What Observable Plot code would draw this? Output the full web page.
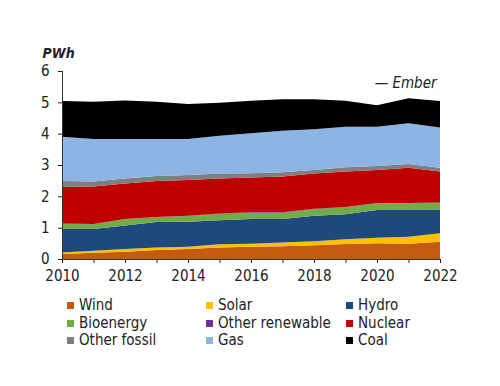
<!DOCTYPE html>
<html>
<head>
<meta charset="utf-8">
<script src="https://cdn.jsdelivr.net/npm/d3@7"></script>
<script src="https://cdn.jsdelivr.net/npm/@observablehq/plot@0.6"></script>
<style>
  html, body { margin: 0; padding: 0; background: #fff; }
  body { width: 500px; height: 386px; overflow: hidden; font-family: "DejaVu Sans Condensed", "DejaVu Sans", sans-serif; }
  #chart { position: relative; line-height: 0; }
  #legend { display: grid; grid-template-columns: 139px 140px 120px; margin-left: 67px; margin-top: 11px; row-gap: 0px; }
  .item { display: flex; align-items: center; font-size: 15px; line-height: 17.5px; color: #222; white-space: nowrap; }
  .sw { width: 7px; height: 7px; margin-right: 5px; flex: none; }
</style>
</head>
<body>
<div id="chart"></div>
<div id="legend"></div>
<script>
const years = [2010, 2011, 2012, 2013, 2014, 2015, 2016, 2017, 2018, 2019, 2020, 2021, 2022];
const categories = ["Wind", "Solar", "Hydro", "Bioenergy", "Other renewable", "Nuclear", "Other fossil", "Gas", "Coal"];
const colors = ["#c55a11", "#ffc000", "#1f497d", "#70ad47", "#7030a0", "#c00000", "#7f7f7f", "#8eb4e3", "#000000"];

const wind      = [0.16, 0.20, 0.23, 0.29, 0.32, 0.37, 0.39, 0.41, 0.44, 0.48, 0.50, 0.49, 0.55];
const solar     = [0.05, 0.06, 0.09, 0.08, 0.07, 0.10, 0.10, 0.12, 0.13, 0.15, 0.18, 0.22, 0.27];
const hydro     = [0.75, 0.70, 0.75, 0.81, 0.80, 0.77, 0.79, 0.75, 0.81, 0.80, 0.88, 0.85, 0.74];
const bioenergy = [0.16, 0.15, 0.20, 0.15, 0.18, 0.20, 0.20, 0.20, 0.21, 0.22, 0.22, 0.22, 0.23];
const otherRenewable = [0.01, 0.01, 0.01, 0.01, 0.01, 0.01, 0.01, 0.01, 0.01, 0.01, 0.01, 0.01, 0.01];
const nuclear   = [1.17, 1.19, 1.13, 1.15, 1.14, 1.12, 1.11, 1.14, 1.13, 1.13, 1.05, 1.12, 0.99];
const otherFossil = [0.19, 0.16, 0.16, 0.16, 0.16, 0.16, 0.14, 0.14, 0.11, 0.14, 0.13, 0.12, 0.12];
const gas       = [1.41, 1.36, 1.26, 1.18, 1.15, 1.20, 1.27, 1.32, 1.30, 1.29, 1.25, 1.30, 1.29];
const coal      = [1.14, 1.19, 1.23, 1.19, 1.12, 1.06, 1.04, 1.01, 0.96, 0.83, 0.69, 0.80, 0.84];

const seriesValues = [wind, solar, hydro, bioenergy, otherRenewable, nuclear, otherFossil, gas, coal];
const yTicks = [0, 1, 2, 3, 4, 5, 6];
const xTickLabels = [2010, 2012, 2014, 2016, 2018, 2020, 2022];

const data = [];
categories.forEach((c, i) => years.forEach((yr, j) => data.push({year: yr, source: c, value: seriesValues[i][j]})));

const font = '"DejaVu Sans Condensed", "DejaVu Sans", sans-serif';

const chart = Plot.plot({
  width: 500,
  height: 286,
  marginTop: 71,
  marginLeft: 62,
  marginRight: 60,
  marginBottom: 27,
  style: {fontFamily: font, fontSize: "15px", color: "#222", background: "#fff"},
  x: {domain: [2010, 2022], ticks: years, tickFormat: d => xTickLabels.includes(d) ? String(d) : "", tickSize: 4, tickPadding: 7, label: null},
  y: {domain: [0, 6], ticks: yTicks, tickFormat: d => String(d), tickSize: 4, tickPadding: 9, label: null},
  color: {domain: categories, range: colors},
  marks: [
    Plot.areaY(data, {x: "year", y: "value", z: "source", fill: "source", order: categories, curve: "linear"}),
    Plot.ruleX([2010], {stroke: "#333", strokeWidth: 1}),
    Plot.ruleY([0], {stroke: "#333", strokeWidth: 1}),
    Plot.text(["PWh"], {frameAnchor: "top-left", dx: -20, dy: -23, textAnchor: "start", fontStyle: "italic", fontWeight: "bold", fontSize: 14, fill: "#222"}),
    Plot.text(["— Ember"], {frameAnchor: "top-right", dx: -4, dy: 6, textAnchor: "end", fontStyle: "italic", fontSize: 15, fill: "#222"})
  ]
});
document.getElementById("chart").appendChild(chart);

const legend = document.getElementById("legend");
categories.forEach((c, i) => {
  const d = document.createElement("div");
  d.className = "item";
  const s = document.createElement("span");
  s.className = "sw";
  s.style.background = colors[i];
  d.appendChild(s);
  d.appendChild(document.createTextNode(c));
  legend.appendChild(d);
});
</script>
</body>
</html>
